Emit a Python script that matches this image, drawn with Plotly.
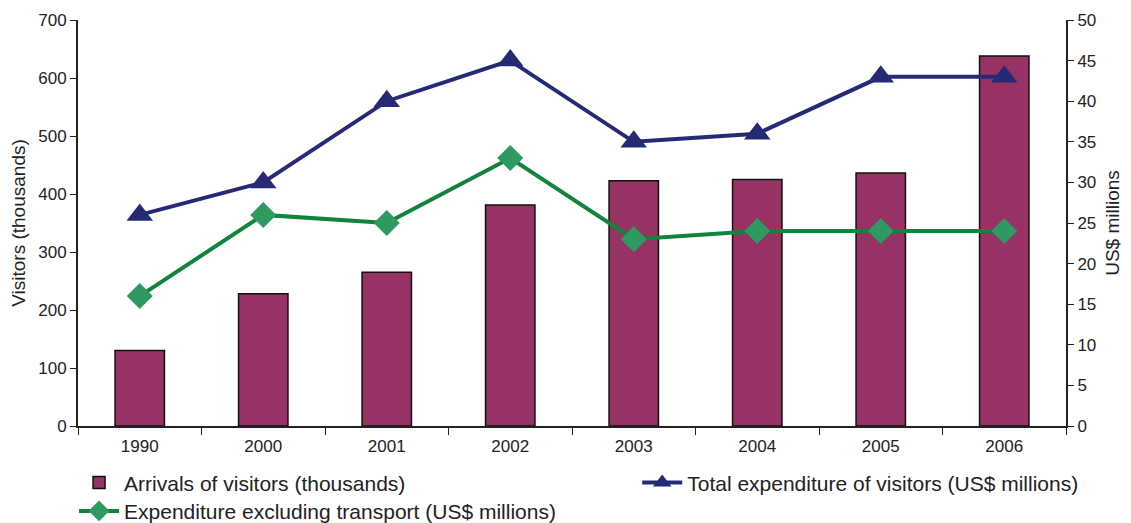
import plotly.graph_objects as go

years = ["1990", "2000", "2001", "2002", "2003", "2004", "2005", "2006"]
arrivals = [130, 228, 265, 381, 423, 425, 436, 638]          # thousands
total_exp = [26, 30, 40, 45, 35, 36, 43, 43]                 # US$ millions
exp_excl_transport = [16, 26, 25, 33, 23, 24, 24, 24]        # US$ millions

left_ticks = [0, 100, 200, 300, 400, 500, 600, 700]
right_ticks = [0, 5, 10, 15, 20, 25, 30, 35, 40, 45, 50]

FONT = "Liberation Sans, Arial, sans-serif"
AXIS_COLOR = "#222222"
TEXT_COLOR = "#222222"

fig = go.Figure()

fig.add_trace(go.Bar(
    x=years, y=arrivals,
    name="Arrivals of visitors (thousands)",
    marker=dict(color="#963264", line=dict(color="#111111", width=1.5)),
    width=0.4,
    yaxis="y",
    legend="legend",
))

fig.add_trace(go.Scatter(
    x=years, y=total_exp,
    name="Total expenditure of visitors (US$ millions)",
    mode="lines+markers",
    line=dict(color="#262a74", width=4),
    marker=dict(symbol="triangle-up", size=23, color="#262a74"),
    yaxis="y2",
    legend="legend2",
))

fig.add_trace(go.Scatter(
    x=years, y=exp_excl_transport,
    name="Expenditure excluding transport (US$ millions)",
    mode="lines+markers",
    line=dict(color="#11833c", width=4),
    marker=dict(symbol="diamond", size=20, color="#2e9960"),
    yaxis="y2",
    legend="legend3",
))

legend_style = dict(
    font=dict(size=21, color=TEXT_COLOR),
    yanchor="middle", xanchor="left",
    bgcolor="rgba(0,0,0,0)",
    itemwidth=40,
)

fig.update_layout(
    width=1131, height=523,
    margin=dict(l=78, r=65, t=20, b=97, autoexpand=False),
    paper_bgcolor="white",
    plot_bgcolor="white",
    font=dict(family=FONT, color=TEXT_COLOR),
    xaxis=dict(
        type="category",
        range=[-0.5, 7.5],
        showline=True, linecolor=AXIS_COLOR, linewidth=2,
        ticks="outside", tickson="boundaries", ticklen=7, tickcolor=AXIS_COLOR,
        tickfont=dict(size=17),
        ticklabelstandoff=4,
        showgrid=False,
    ),
    yaxis=dict(
        range=[0, 700], tickvals=left_ticks,
        showline=True, linecolor=AXIS_COLOR, linewidth=2,
        ticks="outside", ticklen=6, tickcolor=AXIS_COLOR,
        tickfont=dict(size=17),
        showgrid=False, zeroline=False,
        title=dict(text="Visitors (thousands)", font=dict(size=19), standoff=8),
    ),
    yaxis2=dict(
        range=[0, 50], tickvals=right_ticks,
        overlaying="y", side="right",
        showline=True, linecolor=AXIS_COLOR, linewidth=2,
        ticks="outside", ticklen=6, tickcolor=AXIS_COLOR,
        tickfont=dict(size=17),
        showgrid=False, zeroline=False,
        title=dict(text="US$ millions", font=dict(size=19), standoff=10),
    ),
    # inner half of the crossing tick marks on the right axis
    yaxis3=dict(
        range=[0, 50], tickvals=right_ticks,
        overlaying="y", side="right",
        showline=False,
        ticks="inside", ticklen=6, tickcolor=AXIS_COLOR,
        showticklabels=False,
        showgrid=False, zeroline=False,
    ),
    legend=dict(x=-0.004, y=-0.14, **legend_style),
    legend2=dict(x=0.566, y=-0.14, **legend_style),
    legend3=dict(x=-0.004, y=-0.21, **legend_style),
    showlegend=True,
)

fig.write_html("out.html")
